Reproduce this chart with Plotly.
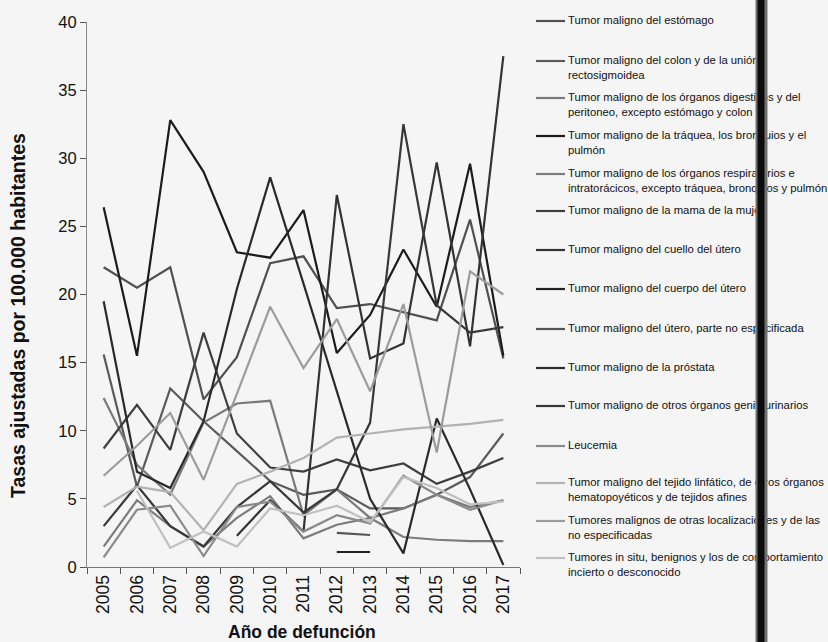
import plotly.graph_objects as go

years = [str(y) for y in range(2005, 2018)]

estomago = [22.0, 20.5, 22.0, 12.3, 15.4, 22.3, 22.8, 19.0, 19.3, 18.7, 18.1, 25.5, 15.3]
colon = [15.6, 5.9, 13.1, 10.7, 8.5, 6.3, 5.3, 5.7, 4.3, 4.3, 5.3, 6.6, 9.8]
digestivos = [12.4, 7.5, 5.3, 10.6, 12.0, 12.2, 3.8, 5.7, 3.6, 4.3, 5.3, 4.4, 4.9]
traquea = [26.4, 15.5, 32.8, 29.0, 23.1, 22.7, 26.2, 15.7, 18.5, 23.3, 19.1, 29.6, 15.5]
respiratorios = [1.5, 4.9, 3.0, 1.5, 3.6, 5.2, 2.1, 3.1, 3.6, 2.2, 2.0, 1.9, 1.9]
mama = [8.7, 11.9, 8.6, 17.2, 9.8, 7.3, 7.0, 7.9, 7.1, 7.6, 6.1, 7.0, 8.0]
cuello = [None, None, None, None, 2.3, 4.9, 2.6, 27.3, 15.3, 16.4, 29.7, 16.2, 37.5]
cuerpo = [None, None, None, None, None, None, None, 1.1, 1.1, None, None, None, None]
utero_ne = [None, None, None, None, None, None, None, 2.5, 2.35, None, None, None, None]
prostata = [19.5, 7.0, 5.8, 10.7, 20.4, 28.6, 20.8, 12.9, 5.0, 1.0, 10.9, 5.7, 0.15]
genitourinarios = [3.0, 6.0, 3.0, 1.5, 4.4, 6.3, 4.0, 5.7, 10.6, 32.5, 19.2, 17.2, 17.6]
leucemia = [0.7, 4.2, 4.5, 0.8, 4.4, 4.8, 2.6, 3.8, 3.2, 6.7, 5.3, 4.2, 4.9]
linfatico = [4.4, 5.9, 5.5, 2.7, 6.1, 7.0, 8.0, 9.5, 9.8, 10.1, 10.3, 10.5, 10.8]
otras = [6.7, 8.9, 11.3, 6.4, 12.7, 19.1, 14.6, 18.2, 12.9, 19.3, 8.4, 21.7, 20.0]
in_situ = [None, 5.6, 1.4, 2.6, 1.5, 4.3, 3.8, 4.5, 3.3, 6.6, 5.8, 4.6, 4.8]

y_ticks = [0, 5, 10, 15, 20, 25, 30, 35, 40]

series = [
    (["Tumor maligno del estómago"], estomago, "#505050"),
    (["Tumor maligno del colon y de la unión", "rectosigmoidea"], colon, "#5a5a5a"),
    (["Tumor maligno de los órganos digestivos y del",
      "peritoneo, excepto estómago y colon"], digestivos, "#7a7a7a"),
    (["Tumor maligno de la tráquea, los bronquios y el", "pulmón"], traquea, "#1c1c1c"),
    (["Tumor maligno de los órganos respiratorios e",
      "intratorácicos, excepto tráquea, bronquios y pulmón"], respiratorios, "#7c7c7c"),
    (["Tumor maligno de la mama de la mujer"], mama, "#3e3e3e"),
    (["Tumor maligno del cuello del útero"], cuello, "#333333"),
    (["Tumor maligno del cuerpo del útero"], cuerpo, "#222222"),
    (["Tumor maligno del útero, parte no especificada"], utero_ne, "#555555"),
    (["Tumor maligno de la próstata"], prostata, "#2a2a2a"),
    (["Tumor maligno de otros órganos genitourinarios"], genitourinarios, "#383838"),
    (["Leucemia"], leucemia, "#8a8a8a"),
    (["Tumor maligno del tejido linfático, de otros órganos",
      "hematopoyéticos y de tejidos afines"], linfatico, "#b2b2b2"),
    (["Tumores malignos de otras localizaciones y de las",
      "no especificadas"], otras, "#9c9c9c"),
    (["Tumores in situ, benignos y los de comportamiento",
      "incierto o desconocido"], in_situ, "#c0c0c0"),
]

# plot area in page pixels
PL, PR, PT, PB = 87, 520, 22, 567
W, H = 828, 642


def px(xp):
    return (xp - PL) / (PR - PL)


def py(yp):
    return (PB - yp) / (PB - PT)


fig = go.Figure()
for names, vals, color in series:
    fig.add_trace(go.Scatter(
        x=years, y=vals, mode="lines", name=" ".join(names),
        line=dict(color=color, width=2.2), connectgaps=False,
        showlegend=False,
    ))

font_main = "Liberation Sans, Arial, sans-serif"

annotations = []
shapes = []

# legend rows: first-line centre (page px) for each entry
legend_y = [20, 60, 97, 135, 173, 210, 249, 288, 328, 367, 405, 445, 482, 520, 557]
for (names, vals, color), yc in zip(series, legend_y):
    shapes.append(dict(type="line", xref="paper", yref="paper",
                       x0=px(536), x1=px(565), y0=py(yc + 1), y1=py(yc + 1),
                       line=dict(color=color, width=2.2)))
    for k, line in enumerate(names):
        annotations.append(dict(
            x=px(566), y=py(yc + 15 * k), xref="paper", yref="paper",
            text=line, showarrow=False, xanchor="left", yanchor="middle",
            font=dict(family=font_main, size=11.3, color="#111111"),
        ))

# axis titles
annotations.append(dict(
    x=px(18), y=py(316), xref="paper", yref="paper",
    text="<b>Tasas ajustadas por 100.000 habitantes</b>", textangle=-90,
    showarrow=False, xanchor="center", yanchor="middle",
    font=dict(family=font_main, size=19.5, color="#111111"),
))
annotations.append(dict(
    x=px(302), y=py(632), xref="paper", yref="paper",
    text="<b>Año de defunción</b>", showarrow=False,
    xanchor="center", yanchor="middle",
    font=dict(family=font_main, size=17.5, color="#111111"),
))

# dark vertical band running down the right side of the page
annotations.append(dict(
    x=px(761), y=0.5, xref="paper", yref="paper", text=" ",
    showarrow=False, width=11, height=700, bgcolor="#707070", borderpad=0,
    yanchor="middle", xanchor="center",
))
annotations.append(dict(
    x=px(761), y=0.5, xref="paper", yref="paper", text=" ",
    showarrow=False, width=6, height=700, bgcolor="#0c0c0c", borderpad=0,
    yanchor="middle", xanchor="center",
))

fig.update_layout(
    width=W, height=H,
    margin=dict(l=PL, r=W - PR, t=PT, b=H - PB, pad=0),
    paper_bgcolor="#f5f5f5", plot_bgcolor="#f5f5f5",
    font=dict(family=font_main, color="#111111"),
    shapes=shapes, annotations=annotations,
    xaxis=dict(
        type="category", range=[-0.5, 12.5], tickson="boundaries",
        ticks="outside", ticklen=6, tickcolor="#555", tickwidth=1,
        showline=True, linecolor="#777", linewidth=1,
        showgrid=False, zeroline=False, tickangle=-90,
        tickfont=dict(family=font_main, size=17.5, color="#111111"),
    ),
    yaxis=dict(
        range=[0, 40], tickvals=y_ticks,
        ticks="outside", ticklen=6, tickcolor="#555", tickwidth=1,
        showline=True, linecolor="#888", linewidth=1,
        showgrid=False, zeroline=False,
        tickfont=dict(family=font_main, size=16.5, color="#111111"),
    ),
)

fig.write_html("out.html")
